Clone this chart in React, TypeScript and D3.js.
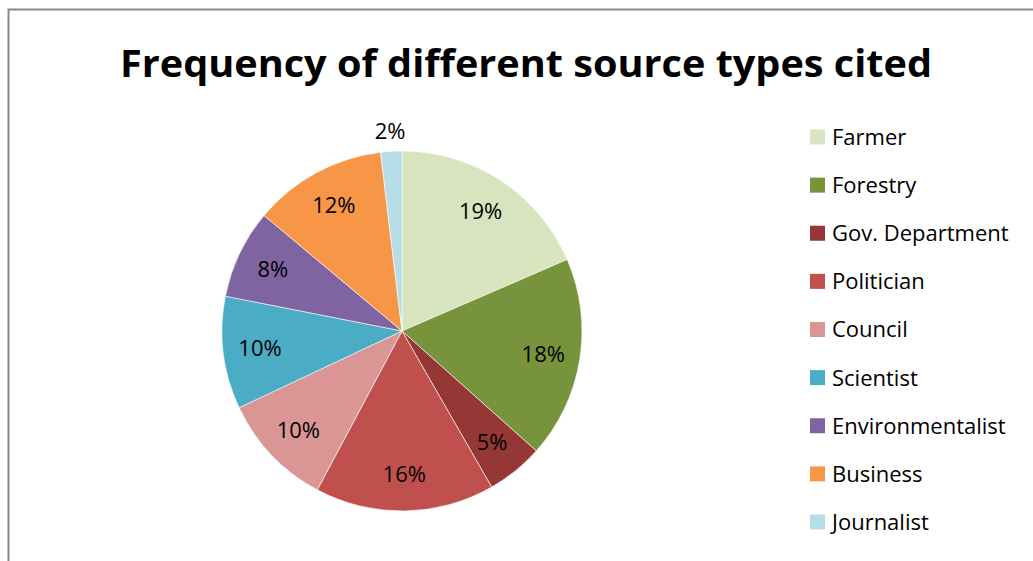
import React from "react";
import * as d3 from "d3";

const categories = ["Farmer", "Forestry", "Gov. Department", "Politician", "Council", "Scientist", "Environmentalist", "Business", "Journalist"];
const values = [18.5, 18.1, 5.1, 16.1, 10.2, 10.1, 8.0, 12.0, 1.9];
const colors = ["#D7E4BD", "#77933C", "#953735", "#C0504D", "#D99694", "#4BACC6", "#8064A2", "#F79646", "#B7DEE8"];
const labels = ["19%", "18%", "5%", "16%", "10%", "10%", "8%", "12%", "2%"];
const title = "Frequency of different source types cited";

const W = 1033;
const H = 561;
const FONT = "'Open Sans', sans-serif";

export default function App() {
  const cx = 402;
  const cy = 331;
  const r = 180;
  const total = d3.sum(values);
  const pie = d3.pie<number>().sort(null).value((d) => d)(values);
  const arc = d3.arc<d3.PieArcDatum<number>>().innerRadius(0).outerRadius(r);
  const legendY = d3.scalePoint<string>().domain(categories).range([137, 522]);

  return (
    <svg width={W} height={H} style={{ position: "fixed", left: 0, top: 0, background: "#fff", fontVariantLigatures: "none" }} fontFamily={FONT}>
      <rect x={0} y={0} width={W} height={H} fill="#fff" />
      <path d={`M8.5,${H} V9.5 H${W}`} fill="none" stroke="#888" strokeWidth={2} />
      <text x={526} y={77} textAnchor="middle" fontSize={38} fontWeight="bold" fill="#000" textLength={812} lengthAdjust="spacingAndGlyphs">
        {title}
      </text>
      <g transform={`translate(${cx},${cy})`}>
        {pie.map((d, i) => (
          <path key={i} d={arc(d) || ""} fill={colors[i]} stroke="#fff" strokeWidth={0.6} />
        ))}
        {pie.map((d, i) => {
          const share = d.value / total;
          const mid = (d.startAngle + d.endAngle) / 2;
          const lr = share < 0.03 ? r + 20 : r * 0.795;
          const x = Math.sin(mid) * lr;
          const y = -Math.cos(mid) * lr;
          return (
            <text key={i} x={x} y={y} dy="0.36em" textAnchor="middle" fontSize={22} fill="#000">
              {labels[i]}
            </text>
          );
        })}
      </g>
      {categories.map((c, i) => (
        <g key={c} transform={`translate(810,${legendY(c)})`}>
          <rect x={0} y={-7.5} width={15} height={15} fill={colors[i]} />
          <text x={22} y={0} dy="0.36em" fontSize={22} fill="#000">
            {c}
          </text>
        </g>
      ))}
    </svg>
  );
}
